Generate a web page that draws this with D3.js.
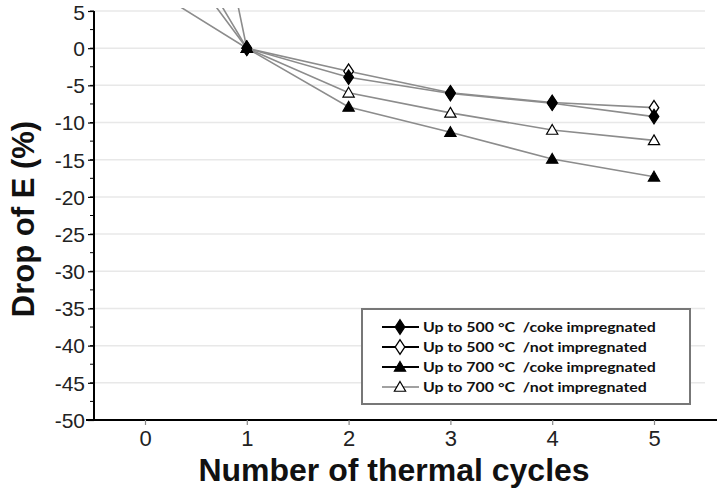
<!DOCTYPE html>
<html>
<head>
<meta charset="utf-8">
<script src="https://cdn.jsdelivr.net/npm/d3@7"></script>
<style>
  html, body { margin: 0; padding: 0; background: #fff; }
  svg { display: block; }
</style>
</head>
<body>
<svg id="chart" width="717" height="490"></svg>
<script>
const cycles = [0, 1, 2, 3, 4, 5];
const seriesNames = [
  "Up to 500 °C  /coke impregnated",
  "Up to 500 °C  /not impregnated",
  "Up to 700 °C  /coke impregnated",
  "Up to 700 °C  /not impregnated"
];
const s500coke = [8.5, 0, -3.9, -6.1, -7.4, -9.2];
const s500not  = [18.4, 0, -3.1, -6.0, -7.3, -8.0];
const s700coke = [66, 0, -7.9, -11.3, -14.9, -17.3];
const s700not  = [23, 0, -6.0, -8.7, -11.0, -12.4];
const markerTypes = ["diamondFilled", "diamondOpen", "triangleFilled", "triangleOpen"];
const xTicks = [0, 1, 2, 3, 4, 5];
const yTicks = [5, 0, -5, -10, -15, -20, -25, -30, -35, -40, -45, -50];
const yMinorTicks = d3.range(5, -50.01, -2.5);

const seriesValues = [s500coke, s500not, s700coke, s700not];
const drawOrder = [1, 3, 2, 0];

const svg = d3.select("#chart");
const x = d3.scaleLinear().domain([0, 5]).range([145, 654]);
const y = d3.scaleLinear().domain([5, -50]).range([11, 420]);
const xLeft = x.invert(94);

// gridlines
svg.append("g").selectAll("line").data(yTicks.filter(d => d !== -50)).join("line")
  .attr("x1", x(xLeft)).attr("x2", 705)
  .attr("y1", d => y(d)).attr("y2", d => y(d))
  .attr("stroke", "#e8e8e8").attr("stroke-width", 1.5);

// clip
svg.append("clipPath").attr("id", "clip").append("rect")
  .attr("x", x(xLeft)).attr("y", y(5) - 3).attr("width", 717 - x(xLeft)).attr("height", y(-50) - y(5) + 3);

const line = d3.line().x((d, i) => x(cycles[i])).y(d => y(d));
const plot = svg.append("g").attr("clip-path", "url(#clip)");
drawOrder.forEach(si => {
  plot.append("path").attr("d", line(seriesValues[si]))
    .attr("fill", "none").attr("stroke", "#8c8c8c").attr("stroke-width", 1.6);
});

function drawMarker(g, type, cx, cy) {
  if (type.startsWith("diamond")) {
    const sym = d3.symbol().type(d3.symbolDiamond).size(60);
    g.append("path").attr("d", sym()).attr("transform", `translate(${cx},${cy}) scale(1.15,1)`)
      .attr("fill", type.endsWith("Filled") ? "#000" : "#fff")
      .attr("stroke", "#000").attr("stroke-width", 1.2);
  } else {
    const sym = d3.symbol().type(d3.symbolTriangle).size(55);
    g.append("path").attr("d", sym()).attr("transform", `translate(${cx},${cy + 1})`)
      .attr("fill", type.endsWith("Filled") ? "#000" : "#fff")
      .attr("stroke", "#000").attr("stroke-width", 1.2);
  }
}

drawOrder.forEach(si => {
  const g = plot.append("g");
  seriesValues[si].forEach((v, i) => {
    if (v <= 5) drawMarker(g, markerTypes[si], x(cycles[i]), y(v));
  });
});

// y axis
const yAxisG = svg.append("g").attr("transform", `translate(${x(xLeft)},0)`);
yAxisG.append("line").attr("x1", 0).attr("x2", 0).attr("y1", y(5)).attr("y2", y(-50))
  .attr("stroke", "#000").attr("stroke-width", 2);
yAxisG.selectAll("line.minor").data(yMinorTicks).join("line").attr("class", "minor")
  .attr("x1", -4).attr("x2", 0).attr("y1", d => y(d)).attr("y2", d => y(d))
  .attr("stroke", "#000").attr("stroke-width", 1);
const yAx = d3.axisLeft(y).tickValues(yTicks).tickSize(6).tickPadding(3).tickFormat(d => String(d));
yAxisG.call(yAx);
yAxisG.select(".domain").remove();
yAxisG.selectAll(".tick line").attr("stroke-width", 1.2);
yAxisG.selectAll(".tick text").attr("font-family", "Liberation Sans, Arial, sans-serif")
  .attr("font-size", 21).attr("fill", "#222").attr("dy", d => d === 5 ? "0.42em" : "0.35em");

// x axis
const xAxisG = svg.append("g").attr("transform", `translate(0,${y(-50)})`);
xAxisG.append("line").attr("x1", x(xLeft) - 8).attr("x2", 717).attr("y1", 0).attr("y2", 0)
  .attr("stroke", "#000").attr("stroke-width", 2);
const xAx = d3.axisBottom(x).tickValues(xTicks).tickSize(5).tickPadding(5).tickFormat(d => String(d));
xAxisG.call(xAx);
xAxisG.select(".domain").remove();
xAxisG.selectAll(".tick line").attr("stroke", "#888").attr("stroke-width", 1.2);
xAxisG.selectAll(".tick text").attr("font-family", "Liberation Sans, Arial, sans-serif")
  .attr("font-size", 22).attr("fill", "#222");

// titles
svg.append("text").attr("x", 394).attr("y", 481).attr("text-anchor", "middle")
  .attr("font-family", "Liberation Sans, Arial, sans-serif").attr("font-weight", "bold")
  .attr("font-size", 32).attr("fill", "#111").text("Number of thermal cycles");
svg.append("text").attr("transform", "translate(34,219) rotate(-90)").attr("text-anchor", "middle")
  .attr("font-family", "Liberation Sans, Arial, sans-serif").attr("font-weight", "bold")
  .attr("font-size", 31).attr("fill", "#111").text("Drop of E (%)");

// legend
const lg = svg.append("g");
lg.append("rect").attr("x", 362).attr("y", 309).attr("width", 328).attr("height", 95)
  .attr("fill", "#fff").attr("stroke", "#777").attr("stroke-width", 2);
seriesNames.forEach((name, i) => {
  const ry = 327 + i * 20;
  lg.append("line").attr("x1", 382).attr("x2", 419).attr("y1", ry).attr("y2", ry)
    .attr("stroke", i === 3 ? "#444" : "#000").attr("stroke-width", i === 3 ? 1.2 : 2);
  drawMarker(lg, markerTypes[i], 400, ry);
  lg.append("text").attr("transform", `translate(423,${ry}) scale(1.18,1)`).attr("dy", "0.35em")
    .style("white-space", "pre")
    .attr("font-family", "Lato, sans-serif").attr("font-weight", "bold")
    .attr("font-size", 13.5).attr("fill", "#111").text(name);
});
</script>
</body>
</html>
